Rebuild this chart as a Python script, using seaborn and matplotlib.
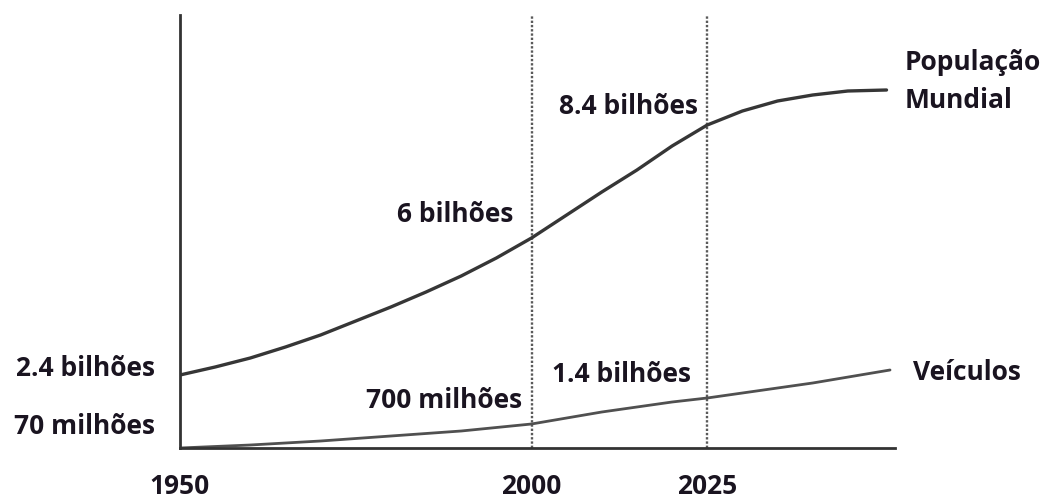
import matplotlib
matplotlib.use("Agg")
import matplotlib.pyplot as plt
import seaborn as sns
import pandas as pd

# ---- data (heights in arbitrary chart units) ----
pop_years = [1950, 1955, 1960, 1965, 1970, 1975, 1980, 1985, 1990, 1995, 2000,
             2005, 2010, 2015, 2020, 2025, 2030, 2035, 2040, 2045, 2050.5]
pop_values = [73, 81, 90, 101, 113, 127, 141, 156, 172, 190, 210,
              233, 256, 278, 302, 323, 337, 347, 353, 357, 358]

veh_years = [1950, 1960, 1970, 1980, 1990, 2000, 2010, 2020, 2025, 2030, 2040, 2051]
veh_values = [0, 3, 7, 12, 17, 24, 36, 46, 50, 55, 65, 78]

marker_years = [2000, 2025]
x_labels = ["1950", "2000", "2025"]
x_label_years = [1950, 2000, 2025]

pop_df = pd.DataFrame({"ano": pop_years, "valor": pop_values})
veh_df = pd.DataFrame({"ano": veh_years, "valor": veh_values})

sns.set_style("white")
plt.rcParams['font.family'] = ['Open Sans', 'DejaVu Sans']

fig = plt.figure(figsize=(10.54, 5.0), dpi=100)
ax = fig.add_axes([180 / 1054, 52 / 500, 715 / 1054, 433 / 500])

sns.lineplot(data=pop_df, x="ano", y="valor", ax=ax, color="#363636", linewidth=2.4)
sns.lineplot(data=veh_df, x="ano", y="valor", ax=ax, color="#505050", linewidth=2.0)

for yr in marker_years:
    ax.axvline(yr, color="#5a5a5a", linestyle=(0, (1, 0.8)), linewidth=1.7, zorder=0)

ax.set_xlim(1950, 1950 + 715 / 7.03)
ax.set_ylim(0, 433)
ax.set_xticks([])
ax.set_yticks([])
ax.set_xlabel("")
ax.set_ylabel("")
for s in ["top", "right"]:
    ax.spines[s].set_visible(False)
for s in ["left", "bottom"]:
    ax.spines[s].set_color("#333333")
    ax.spines[s].set_linewidth(2.0)

tc = "#1a1420"
fs = 19
kw = dict(color=tc, fontsize=fs, fontweight="bold", va="center", clip_on=False)

def px(xp):
    return 1950 + (xp - 180) / 7.03

def py(yp):
    return 448 - yp

ax.text(px(155), py(369), "2.4 bilhões", ha="right", **kw)
ax.text(px(155), py(427), "70 milhões", ha="right", **kw)
for lbl, yr in zip(x_labels, x_label_years):
    ax.text(yr, py(487), lbl, ha="center", **kw)
ax.text(px(513), py(215), "6 bilhões", ha="right", **kw)
ax.text(px(522), py(400), "700 milhões", ha="right", **kw)
ax.text(px(698), py(107), "8.4 bilhões", ha="right", **kw)
ax.text(px(552), py(375), "1.4 bilhões", ha="left", **kw)
ax.text(px(905), py(63), "População", ha="left", **kw)
ax.text(px(905), py(101), "Mundial", ha="left", **kw)
ax.text(px(913), py(372), "Veículos", ha="left", **kw)

fig.savefig("out.png", dpi=100, facecolor="white")
